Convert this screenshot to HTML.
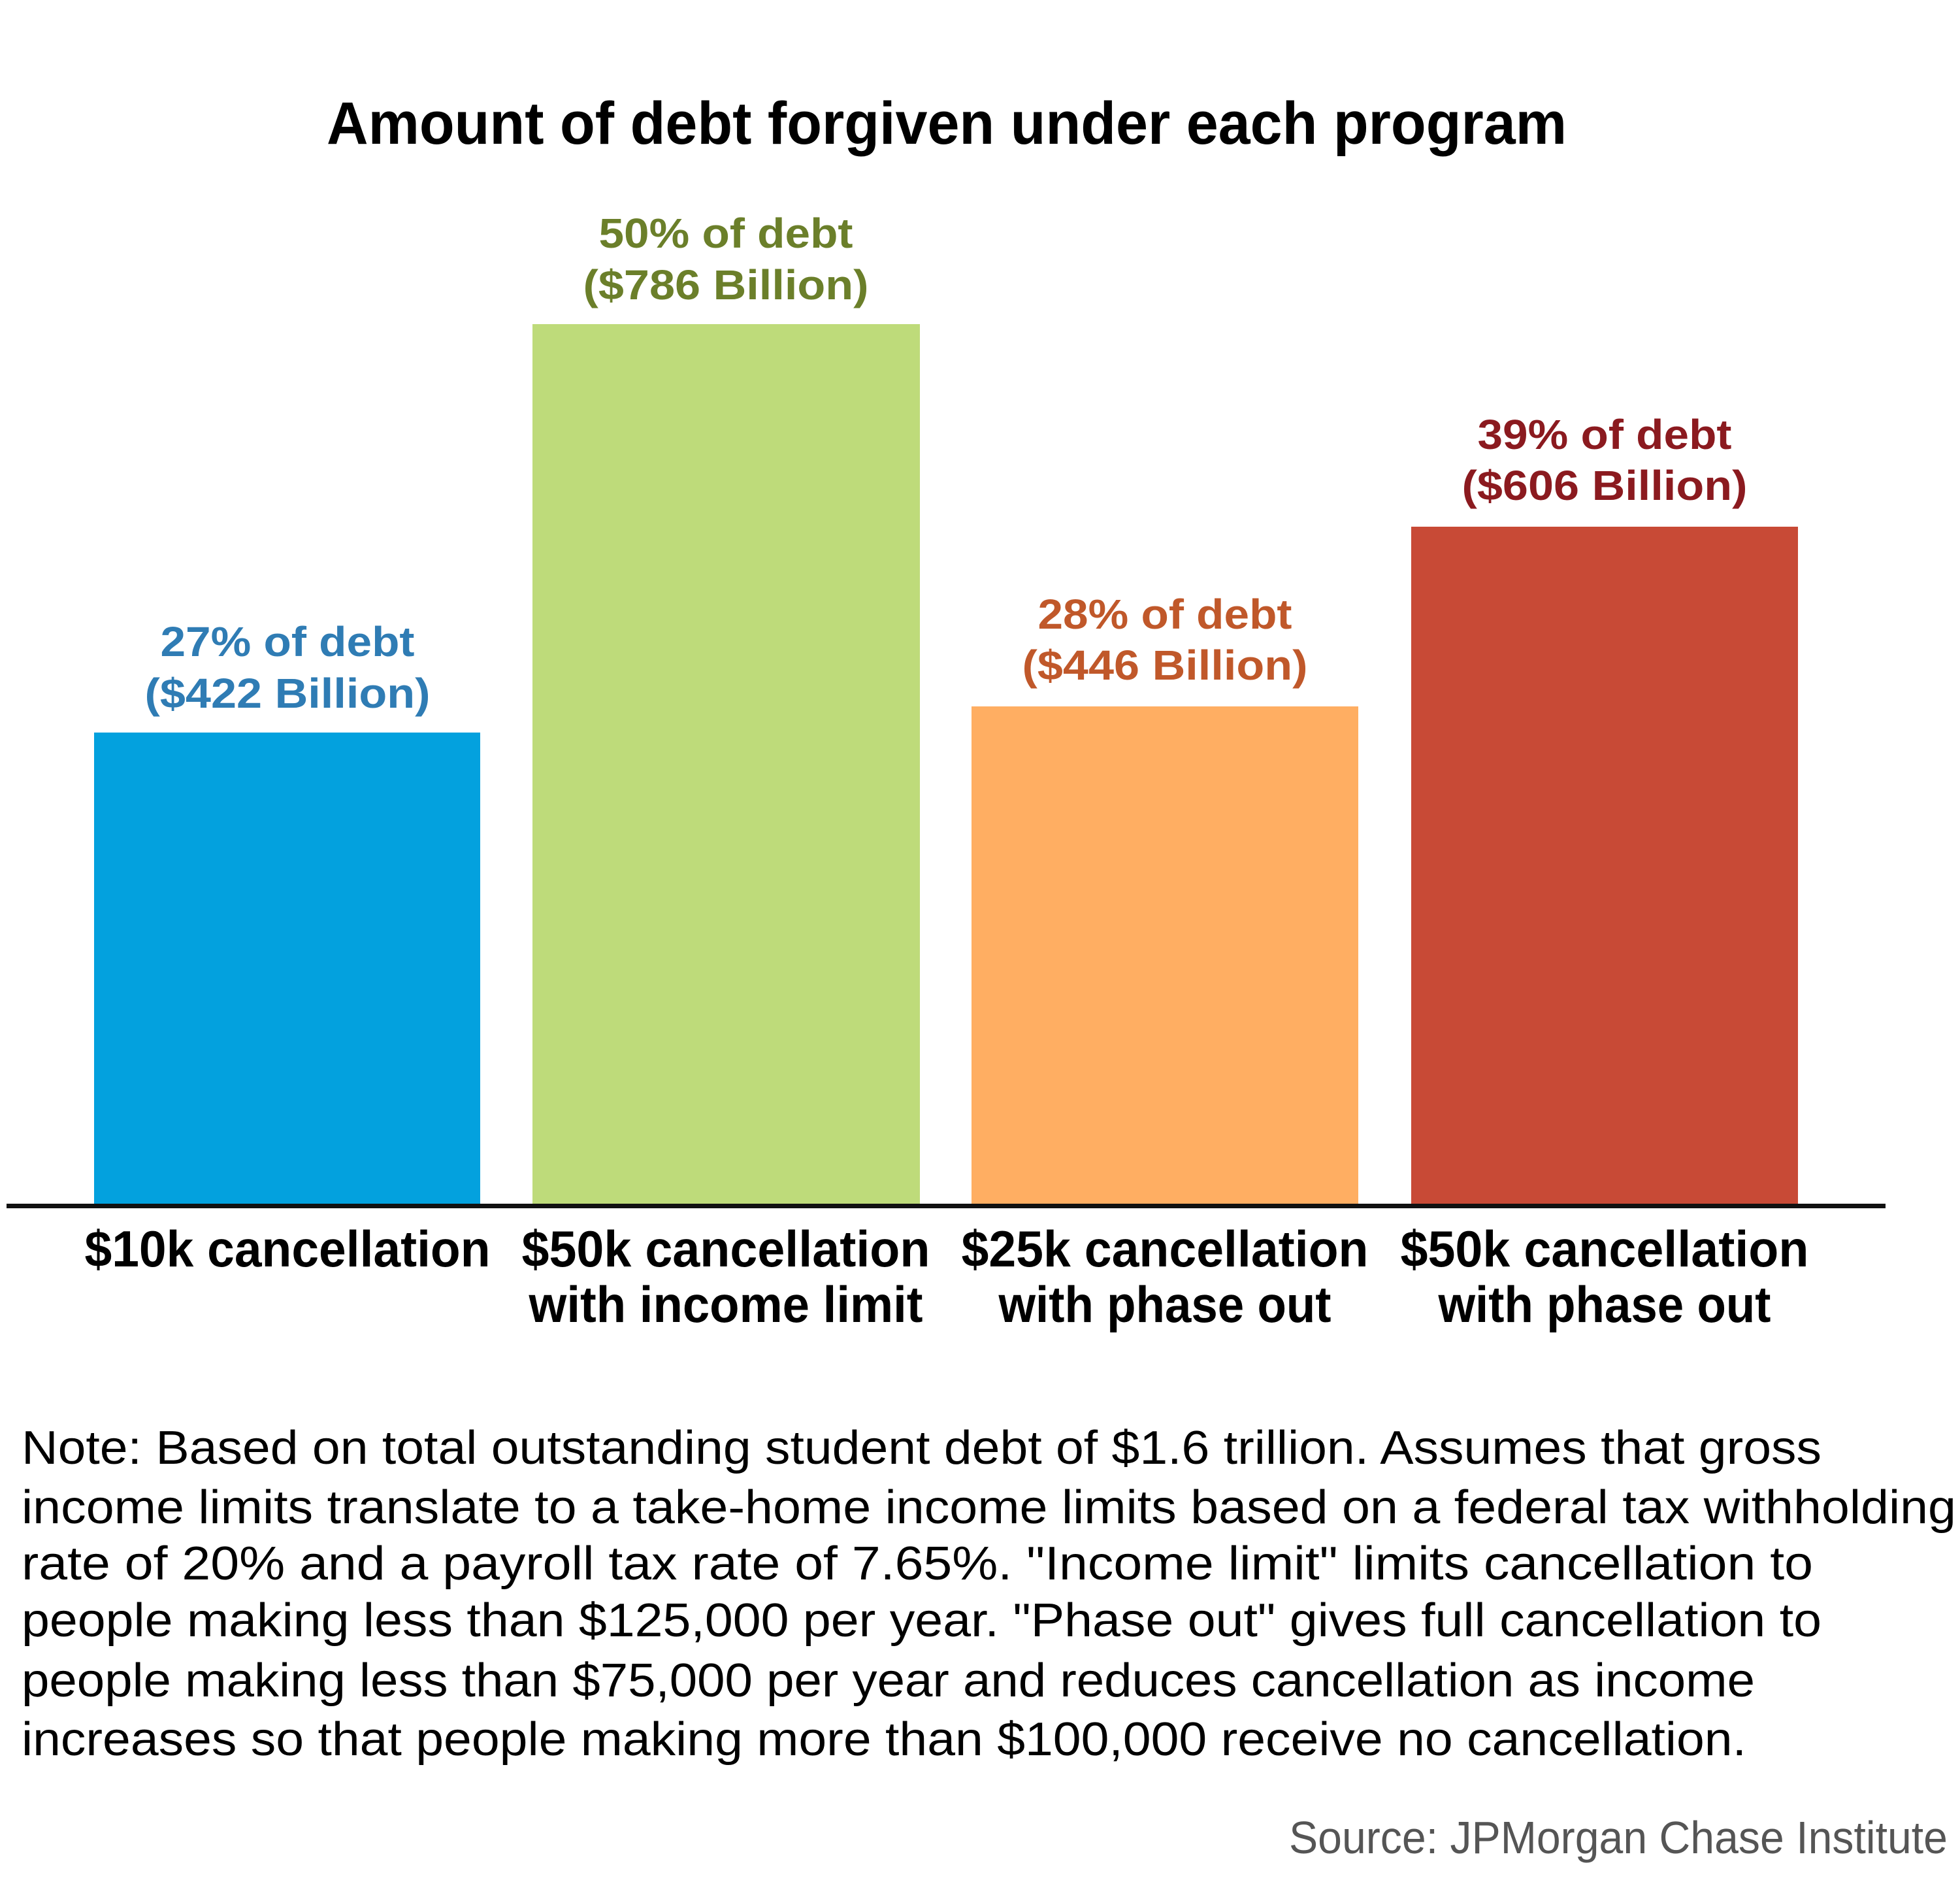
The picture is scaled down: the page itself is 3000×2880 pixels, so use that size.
<!DOCTYPE html>
<html><head><meta charset="utf-8"><style>
html,body{margin:0;padding:0;background:#fff}
svg{display:block}
text{font-family:"Liberation Sans",sans-serif}
</style></head><body>
<svg width="3000" height="2880" viewBox="0 0 3000 2880" xmlns="http://www.w3.org/2000/svg">
<rect width="3000" height="2880" fill="#fff"/>
<text x="500" y="220" font-size="92" font-weight="bold" textLength="1898" lengthAdjust="spacingAndGlyphs" fill="#000">Amount of debt forgiven under each program</text>

<rect x="144" y="1121" width="591" height="725" fill="#03a1de"/>
<rect x="815" y="496" width="593" height="1350" fill="#bedb7a"/>
<rect x="1487" y="1081" width="592" height="765" fill="#ffae62"/>
<rect x="2160" y="806" width="592" height="1040" fill="#c84a36"/>
<rect x="10" y="1842" width="2876" height="7" fill="#111"/>

<g font-size="64" font-weight="bold" text-anchor="middle">
<text x="440" y="1004" fill="#2f7cb4" textLength="389" lengthAdjust="spacingAndGlyphs">27% of debt</text>
<text x="440" y="1083" fill="#2f7cb4" textLength="437" lengthAdjust="spacingAndGlyphs">($422 Billion)</text>
<text x="1111" y="379" fill="#6b7f2a" textLength="389" lengthAdjust="spacingAndGlyphs">50% of debt</text>
<text x="1111" y="458" fill="#6b7f2a" textLength="437" lengthAdjust="spacingAndGlyphs">($786 Billion)</text>
<text x="1783" y="962" fill="#c0582a" textLength="389" lengthAdjust="spacingAndGlyphs">28% of debt</text>
<text x="1783" y="1040" fill="#c0582a" textLength="437" lengthAdjust="spacingAndGlyphs">($446 Billion)</text>
<text x="2456" y="687" fill="#8b1a1f" textLength="389" lengthAdjust="spacingAndGlyphs">39% of debt</text>
<text x="2456" y="765" fill="#8b1a1f" textLength="437" lengthAdjust="spacingAndGlyphs">($606 Billion)</text>
</g>

<g font-size="78" font-weight="bold" text-anchor="middle" fill="#000">
<text x="440" y="1938" textLength="621" lengthAdjust="spacingAndGlyphs">$10k cancellation</text>
<text x="1111" y="1938" textLength="625" lengthAdjust="spacingAndGlyphs">$50k cancellation</text>
<text x="1111" y="2023" textLength="603" lengthAdjust="spacingAndGlyphs">with income limit</text>
<text x="1783" y="1938" textLength="623" lengthAdjust="spacingAndGlyphs">$25k cancellation</text>
<text x="1783" y="2023" textLength="509" lengthAdjust="spacingAndGlyphs">with phase out</text>
<text x="2456" y="1938" textLength="625" lengthAdjust="spacingAndGlyphs">$50k cancellation</text>
<text x="2456" y="2023" textLength="509" lengthAdjust="spacingAndGlyphs">with phase out</text>
</g>

<g font-size="72" fill="#000">
<text x="33" y="2240" textLength="2755" lengthAdjust="spacingAndGlyphs">Note: Based on total outstanding student debt of $1.6 trillion. Assumes that gross</text>
<text x="33" y="2331" textLength="2961" lengthAdjust="spacingAndGlyphs">income limits translate to a take-home income limits based on a federal tax withholding</text>
<text x="33" y="2417" textLength="2742" lengthAdjust="spacingAndGlyphs">rate of 20% and a payroll tax rate of 7.65%. "Income limit" limits cancellation to</text>
<text x="33" y="2504" textLength="2755" lengthAdjust="spacingAndGlyphs">people making less than $125,000 per year. "Phase out" gives full cancellation to</text>
<text x="33" y="2596" textLength="2653" lengthAdjust="spacingAndGlyphs">people making less than $75,000 per year and reduces cancellation as income</text>
<text x="33" y="2686" textLength="2640" lengthAdjust="spacingAndGlyphs">increases so that people making more than $100,000 receive no cancellation.</text>
</g>
<text x="2981" y="2836" font-size="70" fill="#555" text-anchor="end" textLength="1008" lengthAdjust="spacingAndGlyphs">Source: JPMorgan Chase Institute</text>
</svg>
</body></html>
